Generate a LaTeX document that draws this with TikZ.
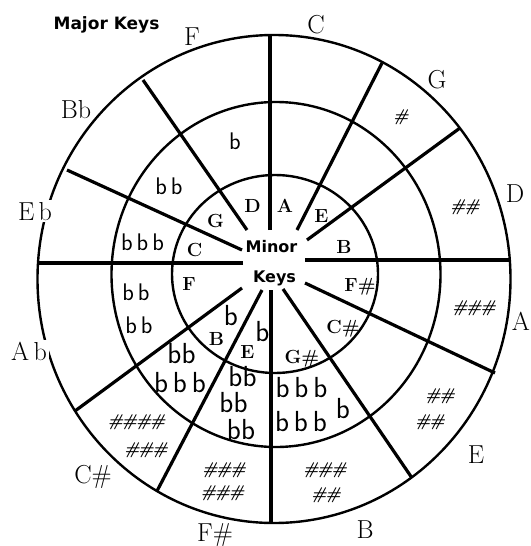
\documentclass[tikz,border=0pt]{standalone}
\usepackage{fontspec}
\newfontfamily\headfont{DejaVu Sans}
\newcommand{\shp}{\#\kern-2pt}

\begin{document}
\begin{tikzpicture}[x=1pt,y=-1pt,
    ring/.style={line width=2.4pt},
    spoke/.style={line width=3.2pt},
    major/.style={font=\fontsize{26}{26}\selectfont, anchor=base, inner sep=2pt},
    gapped/.style={major, fill=white},
    minor/.style={font=\fontsize{19}{19}\selectfont\bfseries, anchor=base, inner sep=0pt},
    flat/.style={font=\fontsize{24}{24}\sffamily, inner sep=0pt},
    flatlg/.style={font=\fontsize{29}{29}\sffamily, inner sep=0pt},
    sharp/.style={font=\fontsize{17}{17}\selectfont\bfseries\itshape, inner sep=0pt},
    head/.style={font=\headfont\bfseries\fontsize{17}{17}\selectfont, anchor=base, inner sep=0pt}]
    \useasboundingbox (0,0) rectangle (530,546);

    % rings
    \draw[ring] (274,279) ellipse [x radius=236.5, y radius=244];
    \draw[ring] (276,274.5) ellipse [x radius=164.5, y radius=172.5];
    \draw[ring] (275,274) ellipse [x radius=103, y radius=99];

    % spokes
    \foreach \xa/\ya/\xb/\yb in {270/230/270/35, 297/230/382/63, 307/240/460/128,
        305/260/511/260, 305/283/495/373, 283/289/412/478, 271/290/271/523,
        262/290/157/491, 242/288/75/411, 243/263/38/263, 242/250/67/170, 247/230/143/80} {
      \draw[spoke] (\xa,\ya) -- (\xb,\yb);
    }

    % major keys round the outside
    \foreach \x/\y/\t [count=\i] in {316/33/C, 437/88/G, 515/202/D, 521/330/A, 476/463/E,
        365/538/B, 215/541/F\#, 93/483/C\#, 76/118/Bb, 192/45/F} {
      \node[major] (maj\i) at (\x,\y) {\t};
    }
    \node[gapped] (majab) at (29,360) {A\,b};
    \node[gapped] (majeb) at (35,220) {E\,b};

    % minor keys, inner ring
    \foreach \x/\y/\t [count=\i] in {252.5/212/D, 285/212/A, 321.5/222/E, 344/253/B,
        360/291/F\#, 343/333/C\#, 302/363/G\#, 247.5/358/E, 216.5/345/B, 189/290/F,
        194.5/256/C, 215.5/227/G} {
      \node[minor] (min\i) at (\x,\y) {\t};
    }

    % flats
    \foreach \x/\y/\t [count=\i] in {235/141.5/b, 169/186.5/b\,b, 142.5/242.5/b\,b\,b,
        136/292/b\,b, 139/325/b\,b} {
      \node[flat] (fl\i) at (\x,\y) {\t};
    }
    \foreach \x/\y/\t [count=\i] in {181.5/354/bb, 180/383/b\,b\,b, 242.5/377/bb,
        233.5/403/bb, 241/430/bb, 301.5/387.5/b\,b\,b, 301/421.5/b\,b\,b, 343/409/b,
        231/316/b, 262.5/332/b} {
      \node[flatlg] (fg\i) at (\x,\y) {\t};
    }

    % sharps
    \foreach \x/\y/\t [count=\i] in {401/117.5/\#, 465/207/\shp\#, 474/308/\shp\shp\#,
        440/396.5/\shp\#, 430/422.5/\shp\#, 325/470.5/\shp\shp\#, 326/495/\shp\#,
        224/470/\shp\shp\#, 222.5/493.5/\shp\shp\#, 136.5/422.5/\shp\shp\shp\#,
        146/450.5/\shp\shp\#} {
      \node[sharp] (sh\i) at (\x,\y) {\t};
    }

    \node[head] (title) at (106.5,29) {Major Keys};
    \node[head, font=\headfont\bfseries\fontsize{16}{16}\selectfont] (mn) at (271.5,252) {Minor};
    \node[head, font=\headfont\bfseries\fontsize{16}{16}\selectfont] (ky) at (274.5,282) {Keys};
  \end{tikzpicture}
\end{document}
